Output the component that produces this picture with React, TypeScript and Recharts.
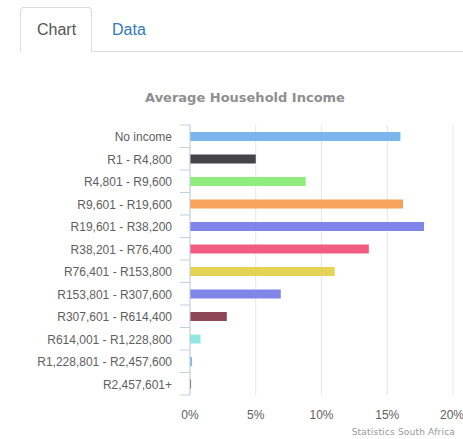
import { BarChart, Bar, XAxis, YAxis, CartesianGrid, Cell } from 'recharts';

const incomeBands = [
  'No income',
  'R1 - R4,800',
  'R4,801 - R9,600',
  'R9,601 - R19,600',
  'R19,601 - R38,200',
  'R38,201 - R76,400',
  'R76,401 - R153,800',
  'R153,801 - R307,600',
  'R307,601 - R614,400',
  'R614,001 - R1,228,800',
  'R1,228,801 - R2,457,600',
  'R2,457,601+',
];

// share of households, %
const householdShare = [16.0, 5.0, 8.8, 16.2, 17.8, 13.6, 11.0, 6.9, 2.8, 0.8, 0.15, 0.08];

const percentTicks = [0, 5, 10, 15, 20];

const barColors = [
  '#7cb5ec', '#434348', '#90ed7d', '#f7a35c', '#8085e9', '#f15c80',
  '#e4d354', '#8085e8', '#8d4653', '#91e8e1', '#7cb5ec', '#434348',
];

const chartData = incomeBands.map((band, i) => ({ band, share: householdShare[i] }));

const AXIS_X = 190;
const PLOT_H = 270;
const BAND = PLOT_H / incomeBands.length;
const FONT = '"Liberation Sans", Arial, sans-serif';

const CategoryTick = (props: any) => {
  const { y, payload, index } = props;
  const half = BAND / 2;
  return (
    <g>
      <line x1={AXIS_X - 10} x2={AXIS_X} y1={y - half} y2={y - half} stroke="#C0D0E0" />
      {index === incomeBands.length - 1 && (
        <line x1={AXIS_X - 10} x2={AXIS_X} y1={y + half} y2={y + half} stroke="#C0D0E0" />
      )}
      <text x={AXIS_X - 18} y={y} dy={5} textAnchor="end" fill="#606060" fontSize={12} fontFamily={FONT}>
        {payload.value}
      </text>
    </g>
  );
};

export default function App() {
  return (
    <div style={{ position: 'absolute', left: 0, top: 0, width: 463, height: 439, background: '#fff', overflow: 'hidden', fontFamily: FONT }}>
      {/* tabs */}
      <div style={{ position: 'absolute', left: 92, top: 51, width: 371, height: 1, background: '#ddd' }} />
      <div style={{ position: 'absolute', left: 20, top: 7, width: 72, height: 45, border: '1px solid #ddd', borderBottom: 'none', borderRadius: '4px 4px 0 0', boxSizing: 'border-box' }} />
      <div style={{ position: 'absolute', left: 37, top: 21, fontSize: 16, color: '#555' }}>Chart</div>
      <div style={{ position: 'absolute', left: 112, top: 21, fontSize: 16, color: '#337ab7' }}>Data</div>

      <div style={{ position: 'absolute', left: 0, top: 90, width: 463, textAlign: 'center', paddingLeft: 27, boxSizing: 'border-box', fontFamily: '"DejaVu Sans", sans-serif', fontWeight: 'bold', fontSize: 13, color: '#8f8f8f' }}>
        Average Household Income
      </div>

      <div style={{ position: 'absolute', left: 0, top: 60 }}>
        <BarChart width={463} height={379} data={chartData} layout="vertical" margin={{ top: 65, right: 10, left: 0, bottom: 14 }}>
          <CartesianGrid horizontal={false} vertical={true} stroke="#e6e6e6" />
          <XAxis
            type="number"
            domain={[0, 20]}
            ticks={percentTicks}
            tickFormatter={(v) => `${v}%`}
            axisLine={false}
            tickLine={false}
            tickSize={6}
            tickMargin={9}
            height={30}
            tick={{ fill: '#606060', fontSize: 12, fontFamily: FONT }}
          />
          <YAxis
            type="category"
            dataKey="band"
            width={190}
            interval={0}
            axisLine={{ stroke: '#C0D0E0' }}
            tickLine={false}
            tick={<CategoryTick />}
          />
          <Bar dataKey="share" barSize={9} isAnimationActive={false}>
            {chartData.map((d, i) => (
              <Cell key={d.band} fill={barColors[i]} />
            ))}
          </Bar>
        </BarChart>
      </div>

      <div style={{ position: 'absolute', right: 8, top: 427, fontFamily: '"DejaVu Sans", sans-serif', fontSize: 9, color: '#999', letterSpacing: 0.2 }}>
        Statistics South Africa
      </div>
    </div>
  );
}
